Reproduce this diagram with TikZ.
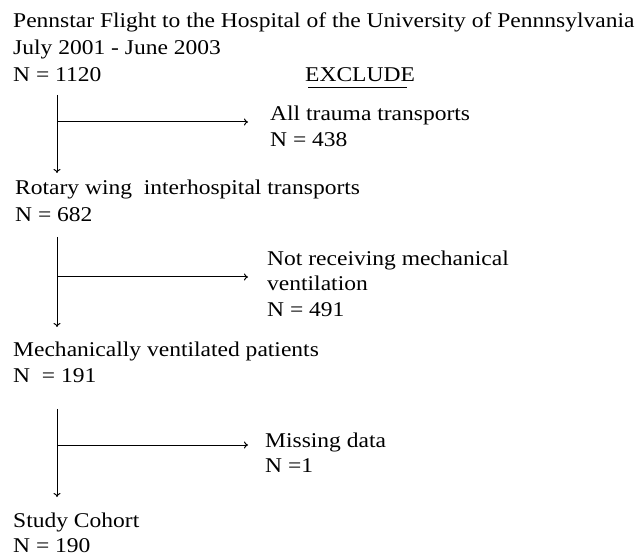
\documentclass[tikz,border=0pt]{standalone}
\usepackage{fontspec}
\setmainfont[FakeStretch=1.12]{Liberation Serif}
\usetikzlibrary{arrows.meta}
\begin{document}
\begin{tikzpicture}[x=1pt,y=-1pt,
    txt/.style={anchor=base west, inner sep=0pt, font=\fontsize{21}{25}\selectfont},
    flecha/.style={-{To[length=4pt,width=7pt]}, line width=1pt}]
    \useasboundingbox (0,0) rectangle (638,556);
    \node[txt] (titulo) at (13,28) {Pennstar Flight to the Hospital of the University of Pennnsylvania};
    \node[txt] (fechas) at (13,55) {July 2001 - June 2003};
    \node[txt] (ntotal) at (13,82) {N = 1120};
    \node[txt] (excl) at (305,82) {EXCLUDE};
    \draw[line width=1pt] ([xshift=3pt,yshift=-6pt]excl.base west) -- ([xshift=-8pt,yshift=-6pt]excl.base east);
    \node[txt] (trauma) at (270,121) {All trauma transports};
    \node[txt] (ntrauma) at (270,147) {N = 438};
    \node[txt] (rotary) at (15,195) {Rotary wing\ \ interhospital transports};
    \node[txt] (nrotary) at (15,222) {N = 682};
    \node[txt] (noventa) at (267,266) {Not receiving mechanical};
    \node[txt] (noventb) at (267,291) {ventilation};
    \node[txt] (nnovent) at (267,317) {N = 491};
    \node[txt] (vent) at (13,357) {Mechanically ventilated patients};
    \node[txt] (nvent) at (13,383) {N\ \ = 191};
    \node[txt] (missing) at (265,447) {Missing data};
    \node[txt] (nmissing) at (265,472) {N =1};
    \node[txt] (cohort) at (13,527) {Study Cohort};
    \node[txt] (ncohort) at (13,552) {N = 190};
    % Flechas: bajada y exclusion
    \coordinate (a1) at (57,95);  \coordinate (b1) at (57,173);  \coordinate (c1) at (57,122);
    \coordinate (a2) at (57,237); \coordinate (b2) at (57,327);  \coordinate (c2) at (57,277);
    \coordinate (a3) at (57,409); \coordinate (b3) at (57,497);  \coordinate (c3) at (57,445);
    \draw[flecha] (a1) -- (b1);
    \draw[flecha, shorten >=22pt] (c1) -- (c1 -| trauma.west);
    \draw[flecha] (a2) -- (b2);
    \draw[flecha, shorten >=19pt] (c2) -- (c2 -| noventa.west);
    \draw[flecha] (a3) -- (b3);
    \draw[flecha, shorten >=17pt] (c3) -- (c3 -| missing.west);
\end{tikzpicture}
\end{document}
